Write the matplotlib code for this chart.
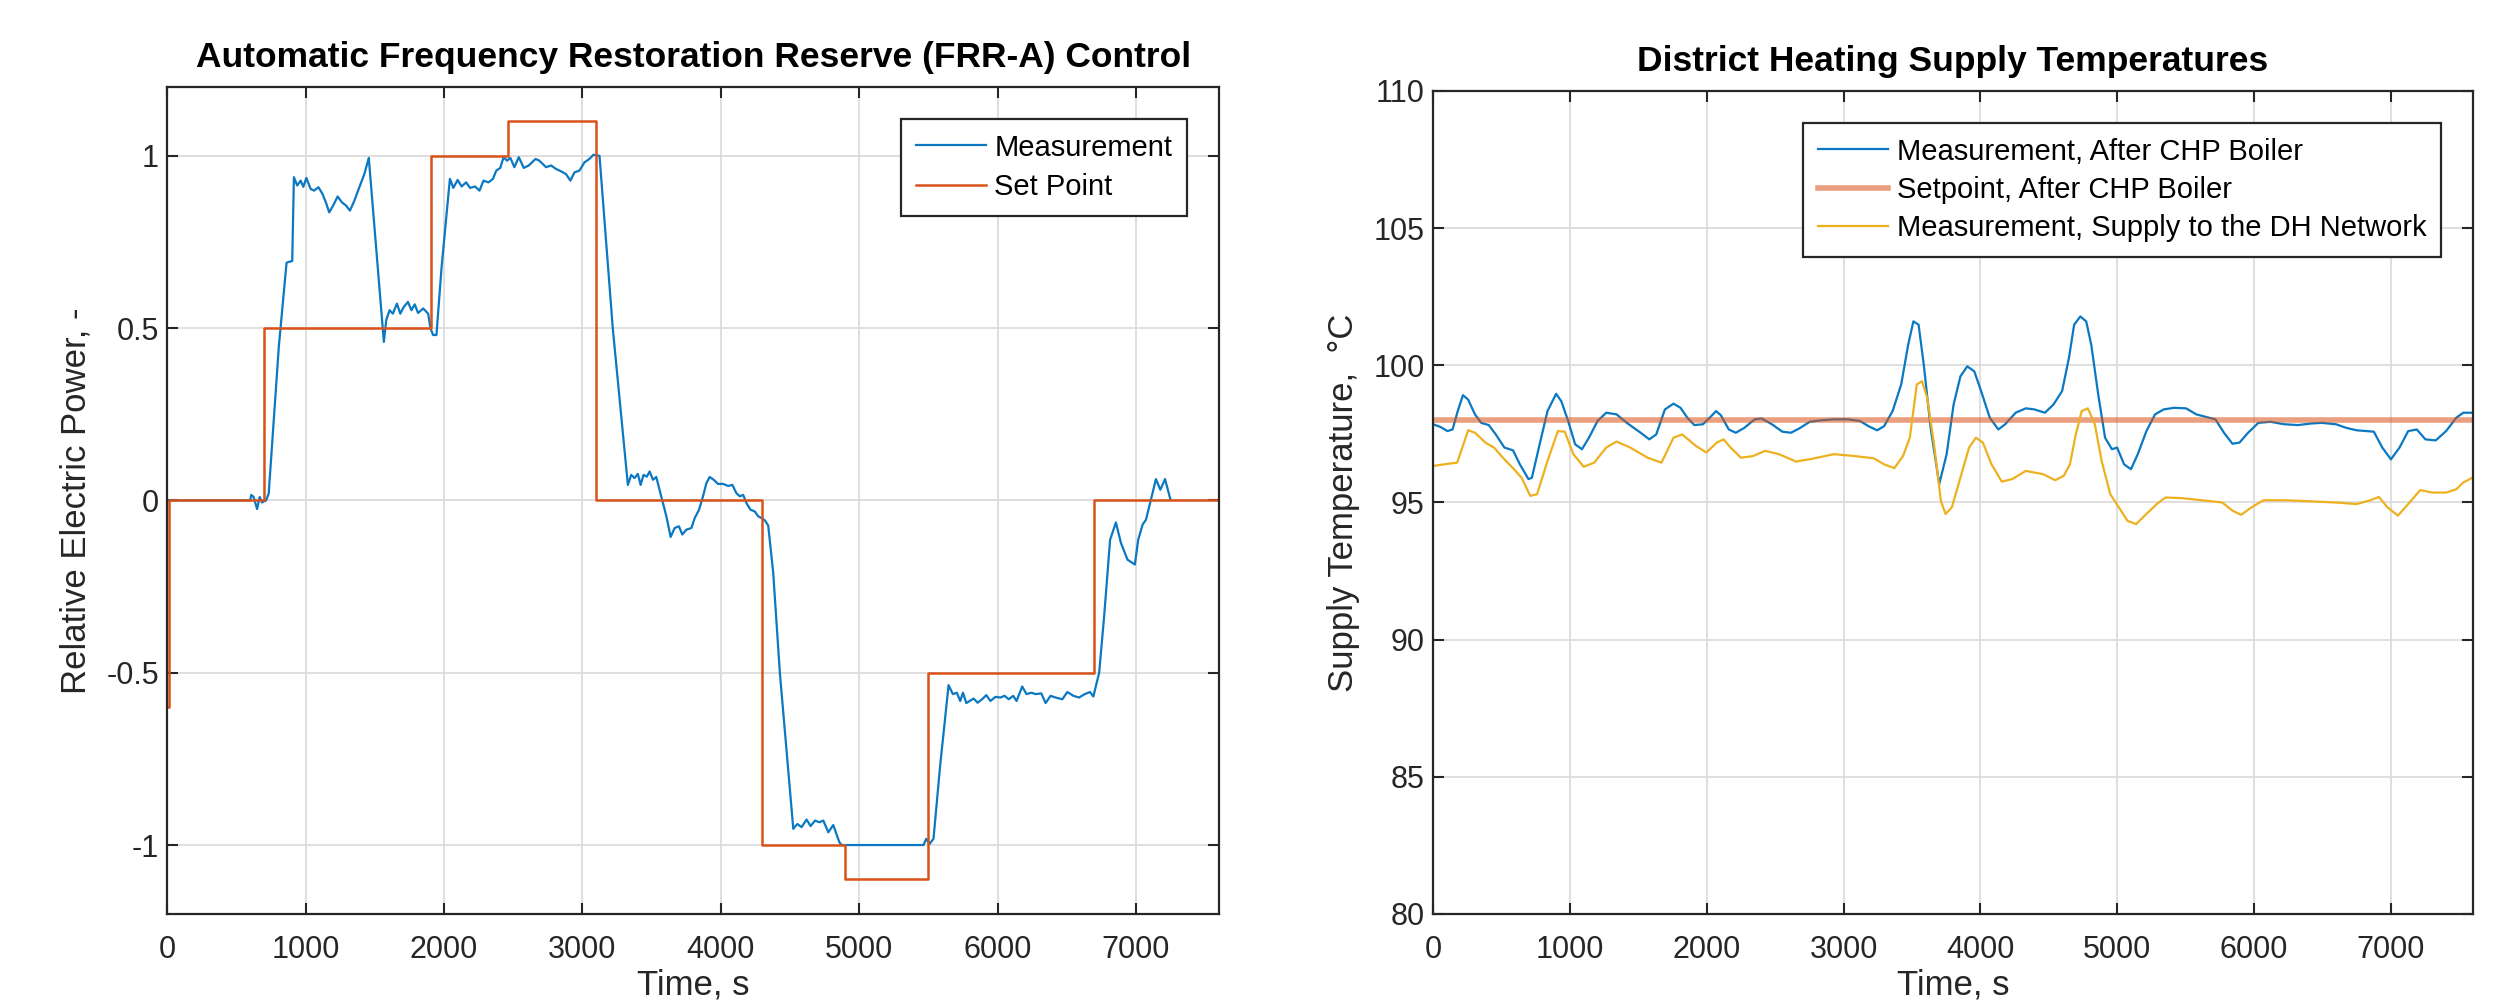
import matplotlib
matplotlib.use("Agg")
import matplotlib.pyplot as plt
import numpy as np

plt.rcParams["font.family"] = ["Liberation Sans", "DejaVu Sans"]

# ---- left panel: FRR-A control ----
sp_t = [0, 10, 700, 1910, 2460, 3100, 4300, 4900, 5500, 6700, 7600]
sp_v = [-0.6, 0, 0.5, 1.0, 1.1, 0, -1.0, -1.1, -0.5, 0, 0]

meas_t = [0, 600, 608, 625, 650, 669, 686, 715, 734, 807, 863, 904, 916, 940, 965,
          984, 1006, 1037, 1062, 1093, 1122, 1147, 1171, 1200, 1232, 1263, 1292,
          1321, 1353, 1389, 1425, 1457, 1510, 1566, 1583, 1607, 1631, 1660, 1685,
          1709, 1740, 1765, 1789, 1813, 1850, 1886, 1903, 1922, 1946, 1983, 2043,
          2068, 2099, 2128, 2160, 2189, 2225, 2257, 2286, 2322, 2354, 2378, 2407,
          2431, 2456, 2480, 2509, 2541, 2577, 2613, 2662, 2689, 2738, 2774, 2810,
          2846, 2882, 2914, 2943, 2979, 3015, 3051, 3080, 3124, 3220, 3329, 3353,
          3377, 3401, 3421, 3442, 3466, 3486, 3510, 3534, 3570, 3607, 3638, 3667,
          3698, 3722, 3751, 3788, 3812, 3843, 3872, 3896, 3920, 3949, 3980, 4017,
          4053, 4084, 4113, 4138, 4162, 4186, 4215, 4246, 4270, 4294, 4319, 4343,
          4379, 4427, 4524, 4553, 4584, 4620, 4649, 4681, 4712, 4741, 4777, 4813,
          4857, 4874, 5465, 5484, 5508, 5537, 5585, 5646, 5677, 5706, 5730, 5750,
          5774, 5798, 5827, 5856, 5888, 5919, 5948, 5985, 6021, 6050, 6081, 6113,
          6137, 6178, 6209, 6243, 6275, 6316, 6347, 6383, 6419, 6468, 6504, 6548,
          6589, 6630, 6668, 6692, 6734, 6770, 6813, 6855, 6891, 6939, 6992, 7016,
          7048, 7072, 7108, 7144, 7176, 7210, 7248]
meas_v = [0, 0, 0.016, 0.01, -0.025, 0.01, -0.006, 0.0, 0.02, 0.446, 0.69, 0.695,
          0.938, 0.914, 0.928, 0.91, 0.936, 0.904, 0.899, 0.909, 0.89, 0.865, 0.836,
          0.856, 0.882, 0.865, 0.856, 0.841, 0.87, 0.909, 0.947, 0.994, 0.735, 0.46,
          0.523, 0.552, 0.542, 0.571, 0.542, 0.561, 0.576, 0.552, 0.569, 0.544, 0.557,
          0.542, 0.499, 0.48, 0.48, 0.677, 0.933, 0.907, 0.93, 0.911, 0.923, 0.907,
          0.911, 0.899, 0.928, 0.923, 0.933, 0.957, 0.965, 0.996, 0.986, 0.994, 0.967,
          0.996, 0.965, 0.972, 0.991, 0.986, 0.967, 0.972, 0.962, 0.955, 0.947, 0.928,
          0.952, 0.957, 0.981, 0.991, 1.003, 1.0, 0.499, 0.045, 0.074, 0.065, 0.077,
          0.045, 0.074, 0.069, 0.084, 0.06, 0.068, 0.012, -0.046, -0.106, -0.08,
          -0.075, -0.099, -0.085, -0.08, -0.051, -0.027, 0.012, 0.05, 0.068, 0.06,
          0.048, 0.048, 0.042, 0.045, 0.021, 0.012, 0.016, -0.008, -0.027, -0.032,
          -0.046, -0.051, -0.058, -0.073, -0.21, -0.5, -0.953, -0.939, -0.948, -0.926,
          -0.945, -0.929, -0.934, -0.929, -0.963, -0.942, -0.992, -1.0, -1.0, -0.982,
          -0.997, -0.982, -0.77, -0.536, -0.562, -0.558, -0.582, -0.558, -0.588,
          -0.582, -0.575, -0.587, -0.577, -0.565, -0.582, -0.57, -0.572, -0.567,
          -0.577, -0.567, -0.582, -0.54, -0.562, -0.558, -0.562, -0.56, -0.588,
          -0.567, -0.572, -0.577, -0.556, -0.567, -0.572, -0.562, -0.556, -0.569,
          -0.5, -0.336, -0.114, -0.064, -0.123, -0.172, -0.186, -0.114, -0.07,
          -0.056, 0.002, 0.062, 0.031, 0.062, 0.004]

# ---- right panel: district heating temperatures ----
dh_setpoint = 98.0

boiler_t = [0, 54, 105, 142, 180, 218, 256, 306, 352, 407, 458, 521, 584, 634, 697,
            722, 773, 836, 899, 937, 987, 1038, 1088, 1139, 1202, 1265, 1341, 1416,
            1517, 1580, 1631, 1694, 1757, 1808, 1858, 1909, 1972, 2022, 2068, 2103,
            2161, 2212, 2275, 2350, 2401, 2476, 2552, 2615, 2677, 2753, 2829, 2930,
            3030, 3119, 3182, 3245, 3296, 3358, 3421, 3472, 3510, 3548, 3586, 3636,
            3699, 3753, 3804, 3854, 3904, 3955, 4005, 4068, 4131, 4181, 4257, 4332,
            4395, 4471, 4534, 4597, 4647, 4685, 4730, 4773, 4810, 4861, 4911, 4961,
            4999, 5050, 5100, 5150, 5213, 5276, 5339, 5415, 5503, 5578, 5654, 5717,
            5780, 5842, 5893, 5956, 6031, 6119, 6220, 6321, 6421, 6497, 6598, 6673,
            6749, 6875, 6937, 7000, 7063, 7126, 7189, 7252, 7327, 7403, 7478, 7529,
            7600]
boiler_v = [97.85, 97.75, 97.6, 97.66, 98.33, 98.91, 98.75, 98.21, 97.9, 97.82,
            97.48, 97.0, 96.9, 96.39, 95.85, 95.9, 97.0, 98.33, 98.96, 98.69, 97.97,
            97.12, 96.94, 97.36, 97.97, 98.27, 98.21, 97.9, 97.54, 97.3, 97.48, 98.39,
            98.6, 98.45, 98.09, 97.82, 97.85, 98.09, 98.33, 98.18, 97.66, 97.54,
            97.72, 98.03, 98.06, 97.85, 97.58, 97.54, 97.7, 97.94, 97.99, 98.03,
            98.03, 97.97, 97.78, 97.63, 97.78, 98.33, 99.3, 100.75, 101.6, 101.48,
            100.02, 97.72, 95.67, 96.76, 98.57, 99.6, 99.96, 99.78, 99.06, 98.09,
            97.66, 97.85, 98.27, 98.43, 98.39, 98.27, 98.57, 99.06, 100.27, 101.48,
            101.78, 101.6, 100.75, 98.93, 97.36, 96.94, 97.0, 96.39, 96.21, 96.76,
            97.6, 98.21, 98.39, 98.45, 98.43, 98.21, 98.11, 98.03, 97.54, 97.14,
            97.18, 97.54, 97.9, 97.94, 97.85, 97.82, 97.88, 97.9, 97.85, 97.72, 97.63,
            97.58, 97.0, 96.57, 97.0, 97.6, 97.66, 97.3, 97.26, 97.6, 98.09, 98.27,
            98.27]

supply_t = [0, 81, 176, 256, 306, 382, 445, 521, 584, 647, 710, 760, 836, 912, 962,
            1025, 1101, 1177, 1265, 1341, 1441, 1568, 1669, 1757, 1820, 1921, 1997,
            2073, 2123, 2174, 2250, 2338, 2426, 2527, 2653, 2779, 2930, 3082, 3220,
            3296, 3371, 3434, 3484, 3535, 3573, 3611, 3661, 3711, 3745, 3791, 3854,
            3917, 3967, 4018, 4081, 4156, 4232, 4332, 4458, 4546, 4609, 4654, 4697,
            4740, 4785, 4836, 4886, 4949, 5012, 5075, 5138, 5213, 5289, 5352, 5465,
            5616, 5767, 5842, 5905, 5981, 6069, 6220, 6421, 6623, 6749, 6849, 6912,
            6975, 7051, 7126, 7214, 7302, 7403, 7478, 7529, 7600]
supply_v = [96.33, 96.39, 96.45, 97.63, 97.54, 97.18, 97.0, 96.57, 96.25, 95.9,
            95.24, 95.3, 96.51, 97.6, 97.58, 96.76, 96.3, 96.45, 97.0, 97.22, 97.0,
            96.63, 96.45, 97.36, 97.48, 97.06, 96.82, 97.18, 97.3, 97.0, 96.63,
            96.69, 96.88, 96.76, 96.49, 96.6, 96.76, 96.69, 96.61, 96.39, 96.25,
            96.69, 97.36, 99.3, 99.42, 98.81, 97.12, 95.06, 94.58, 94.82, 95.91,
            97.0, 97.36, 97.18, 96.39, 95.76, 95.85, 96.15, 96.03, 95.81, 95.97,
            96.39, 97.48, 98.33, 98.43, 97.85, 96.51, 95.3, 94.82, 94.33, 94.21,
            94.58, 94.94, 95.18, 95.16, 95.08, 95.0, 94.7, 94.55, 94.82, 95.08,
            95.08, 95.04, 94.99, 94.94, 95.08, 95.2, 94.82, 94.52, 94.94, 95.45,
            95.36, 95.36, 95.48, 95.73, 95.91]

blue = "#0a78c2"
orange = "#D95319"
yellow = "#EDB120"
axcol = "#262626"

fig = plt.figure(figsize=(24.98, 10.07), dpi=100)
ax1 = fig.add_axes([0.0669, 0.0924, 0.4211, 0.8213])
ax2 = fig.add_axes([0.5737, 0.0924, 0.4163, 0.8173])


def style(ax):
    ax.grid(True, color="#dcdcdc", linewidth=1.3)
    ax.set_axisbelow(True)
    for s in ax.spines.values():
        s.set_color(axcol)
        s.set_linewidth(1.6)
    ax.tick_params(direction="in", top=True, right=True, length=8, width=1.5,
                   labelsize=22, colors=axcol, labelcolor="#262626")
    ax.tick_params(axis="x", pad=15)
    ax.tick_params(axis="y", pad=6)


def legend(ax, spacing):
    leg = ax.legend(loc="upper right", fontsize=21, frameon=True, fancybox=False,
                    edgecolor=axcol, framealpha=1, handlelength=2.4,
                    borderaxespad=1.1, handletextpad=0.3, labelspacing=spacing,
                    borderpad=0.5)
    leg.get_frame().set_linewidth(1.6)


ax1.plot(meas_t, meas_v, color=blue, lw=1.6, label="Measurement")
ax1.step(sp_t, sp_v, where="post", color=orange, lw=1.8, label="Set Point")
ax1.set_xlim(0, 7600)
ax1.set_ylim(-1.2, 1.2)
ax1.set_xticks(np.arange(0, 7001, 1000))
ax1.set_yticks([-1, -0.5, 0, 0.5, 1])
ax1.set_yticklabels(["-1", "-0.5", "0", "0.5", "1"])
style(ax1)
ax1.set_title("Automatic Frequency Restoration Reserve (FRR-A) Control",
              fontsize=25.5, fontweight="bold", pad=14)
ax1.set_ylabel("Relative Electric Power, -", fontsize=25, color="#262626", labelpad=10)
ax1.set_xlabel("Time, s", fontsize=25, color="#262626", labelpad=3)
legend(ax1, 0.4)

ax2.plot(boiler_t, boiler_v, color=blue, lw=1.6, label="Measurement, After CHP Boiler")
ax2.plot([0, 7600], [dh_setpoint, dh_setpoint], color=orange, alpha=0.55, lw=4,
         label="Setpoint, After CHP Boiler")
ax2.plot(supply_t, supply_v, color=yellow, lw=1.6,
         label="Measurement, Supply to the DH Network")
ax2.set_xlim(0, 7600)
ax2.set_ylim(80, 110)
ax2.set_xticks(np.arange(0, 7001, 1000))
ax2.set_yticks(np.arange(80, 111, 5))
style(ax2)
ax2.set_title("District Heating Supply Temperatures", fontsize=25.5,
              fontweight="bold", pad=14)
ax2.set_ylabel("Supply Temperature,  °C", fontsize=25, color="#262626", labelpad=10)
ax2.set_xlabel("Time, s", fontsize=25, color="#262626", labelpad=3)
legend(ax2, 0.35)

fig.savefig("out.png", dpi=100, facecolor="white")
